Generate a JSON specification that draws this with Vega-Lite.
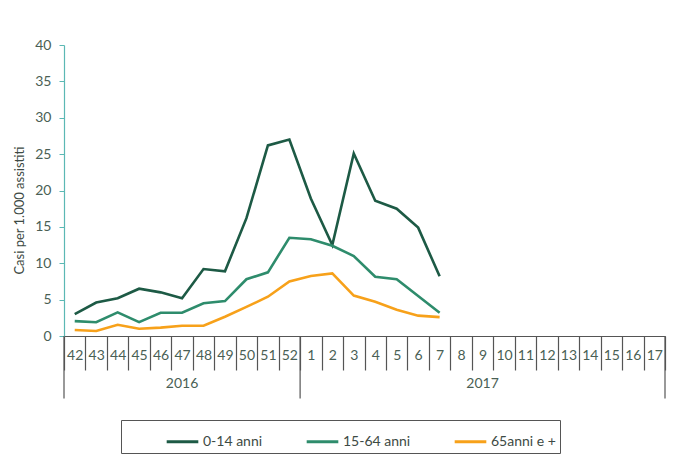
{
  "$schema": "https://vega.github.io/schema/vega-lite/v6.json",
  "width": 601,
  "height": 291,
  "autosize": "none",
  "padding": {"left": 64, "top": 45, "right": 11, "bottom": 122},
  "background": "white",
  "config": {
    "view": {"stroke": null},
    "font": "Lato",
    "text": {"font": "Lato"},
    "axisX": {
      "title": null,
      "labelAngle": 0,
      "tickBand": "extent",
      "tickSize": 34,
      "tickColor": "#555555",
      "tickWidth": 1.2,
      "domainColor": "#555555",
      "domainWidth": 1.2,
      "labelPadding": -22,
      "labelBaseline": "top",
      "labelFontSize": 14,
      "labelColor": "#4a5f55",
      "labelFont": "Lato"
    },
    "axisY": {
      "labelOverlap": false,
      "grid": false,
      "domainColor": "#5bb8b4",
      "domainWidth": 1.2,
      "tickColor": "#5bb8b4",
      "tickSize": 5,
      "labelPadding": 8,
      "labelFontSize": 14,
      "labelColor": "#4a5f55",
      "labelFont": "Lato",
      "titleFont": "Lato",
      "titleFontSize": 13,
      "titleFontWeight": "normal",
      "titleColor": "#3d4a44",
      "titlePadding": 8,
      "titleY": 165
    }
  },
  "datasets": {
    "series": [
      {"week": "42", "group": "0-14 anni", "value": 3.0},
      {"week": "43", "group": "0-14 anni", "value": 4.6},
      {"week": "44", "group": "0-14 anni", "value": 5.2},
      {"week": "45", "group": "0-14 anni", "value": 6.5},
      {"week": "46", "group": "0-14 anni", "value": 6.0},
      {"week": "47", "group": "0-14 anni", "value": 5.2},
      {"week": "48", "group": "0-14 anni", "value": 9.2},
      {"week": "49", "group": "0-14 anni", "value": 8.9},
      {"week": "50", "group": "0-14 anni", "value": 16.2},
      {"week": "51", "group": "0-14 anni", "value": 26.2},
      {"week": "52", "group": "0-14 anni", "value": 27.0},
      {"week": "1", "group": "0-14 anni", "value": 18.9},
      {"week": "2", "group": "0-14 anni", "value": 12.5},
      {"week": "3", "group": "0-14 anni", "value": 25.1},
      {"week": "4", "group": "0-14 anni", "value": 18.6},
      {"week": "5", "group": "0-14 anni", "value": 17.5},
      {"week": "6", "group": "0-14 anni", "value": 14.9},
      {"week": "7", "group": "0-14 anni", "value": 8.2},
      {"week": "42", "group": "15-64 anni", "value": 2.05},
      {"week": "43", "group": "15-64 anni", "value": 1.9},
      {"week": "44", "group": "15-64 anni", "value": 3.25},
      {"week": "45", "group": "15-64 anni", "value": 1.9},
      {"week": "46", "group": "15-64 anni", "value": 3.2},
      {"week": "47", "group": "15-64 anni", "value": 3.2},
      {"week": "48", "group": "15-64 anni", "value": 4.5},
      {"week": "49", "group": "15-64 anni", "value": 4.8},
      {"week": "50", "group": "15-64 anni", "value": 7.8},
      {"week": "51", "group": "15-64 anni", "value": 8.75},
      {"week": "52", "group": "15-64 anni", "value": 13.5},
      {"week": "1", "group": "15-64 anni", "value": 13.3},
      {"week": "2", "group": "15-64 anni", "value": 12.4},
      {"week": "3", "group": "15-64 anni", "value": 11.0},
      {"week": "4", "group": "15-64 anni", "value": 8.15},
      {"week": "5", "group": "15-64 anni", "value": 7.8},
      {"week": "6", "group": "15-64 anni", "value": 5.5},
      {"week": "7", "group": "15-64 anni", "value": 3.2},
      {"week": "42", "group": "65anni e +", "value": 0.82},
      {"week": "43", "group": "65anni e +", "value": 0.69},
      {"week": "44", "group": "65anni e +", "value": 1.55},
      {"week": "45", "group": "65anni e +", "value": 1.0},
      {"week": "46", "group": "65anni e +", "value": 1.15},
      {"week": "47", "group": "65anni e +", "value": 1.4},
      {"week": "48", "group": "65anni e +", "value": 1.4},
      {"week": "49", "group": "65anni e +", "value": 2.65},
      {"week": "50", "group": "65anni e +", "value": 4.0},
      {"week": "51", "group": "65anni e +", "value": 5.4},
      {"week": "52", "group": "65anni e +", "value": 7.5},
      {"week": "1", "group": "65anni e +", "value": 8.25},
      {"week": "2", "group": "65anni e +", "value": 8.6},
      {"week": "3", "group": "65anni e +", "value": 5.55},
      {"week": "4", "group": "65anni e +", "value": 4.7},
      {"week": "5", "group": "65anni e +", "value": 3.6},
      {"week": "6", "group": "65anni e +", "value": 2.8},
      {"week": "7", "group": "65anni e +", "value": 2.6}
    ],
    "years": [
      {"week": "47", "year": "2016"},
      {"week": "9", "year": "2017"}
    ],
    "startDividers": [
      {"week": "42"},
      {"week": "1"}
    ],
    "endDividers": [
      {"week": "17"}
    ]
  },
  "encoding": {
    "x": {
      "field": "week",
      "type": "ordinal",
      "title": null,
      "scale": {
        "type": "band",
        "paddingInner": 0,
        "paddingOuter": 0,
        "domain": ["42","43","44","45","46","47","48","49","50","51","52","1","2","3","4","5","6","7","8","9","10","11","12","13","14","15","16","17"]
      }
    }
  },
  "layer": [
    {
      "data": {"name": "series"},
      "mark": {"type": "line", "strokeWidth": 2.6},
      "encoding": {
        "y": {
          "field": "value",
          "type": "quantitative",
          "scale": {"domain": [0, 40]},
          "title": "Casi per 1.000 assistiti",
          "axis": {"values": [0, 5, 10, 15, 20, 25, 30, 35, 40]}
        },
        "color": {
          "field": "group",
          "type": "nominal",
          "scale": {
            "domain": ["0-14 anni", "15-64 anni", "65anni e +"],
            "range": ["#1d5a45", "#2e8c6c", "#f7a11a"]
          },
          "legend": {
            "title": null,
            "orient": "none",
            "legendX": 57,
            "legendY": 375,
            "direction": "horizontal",
            "strokeColor": "#555555",
            "padding": 4,
            "symbolType": "stroke",
            "symbolSize": 1000,
            "symbolStrokeWidth": 3,
            "symbolOffset": 40,
            "columnPadding": 2,
            "labelOffset": 3,
            "labelFontSize": 14,
            "labelColor": "#3d4a44",
            "labelFont": "Lato"
          }
        }
      }
    },
    {
      "data": {"name": "years"},
      "mark": {"type": "text", "fontSize": 14, "color": "#4a5f55", "font": "Lato", "baseline": "middle"},
      "encoding": {
        "y": {"datum": -6.6, "title": "Casi per 1.000 assistiti", "axis": {"values": [0, 5, 10, 15, 20, 25, 30, 35, 40]}},
        "text": {"field": "year"}
      }
    },
    {
      "data": {"name": "startDividers"},
      "mark": {"type": "rule", "color": "#555555", "strokeWidth": 1.2},
      "encoding": {
        "x": {"field": "week", "type": "ordinal", "bandPosition": 0, "title": null},
        "y": {"datum": 0, "title": "Casi per 1.000 assistiti", "axis": {"values": [0, 5, 10, 15, 20, 25, 30, 35, 40]}},
        "y2": {"datum": -8.6}
      }
    },
    {
      "data": {"name": "endDividers"},
      "mark": {"type": "rule", "color": "#555555", "strokeWidth": 1.2},
      "encoding": {
        "x": {"field": "week", "type": "ordinal", "bandPosition": 1, "title": null},
        "y": {"datum": 0, "title": "Casi per 1.000 assistiti", "axis": {"values": [0, 5, 10, 15, 20, 25, 30, 35, 40]}},
        "y2": {"datum": -8.6}
      }
    }
  ]
}
